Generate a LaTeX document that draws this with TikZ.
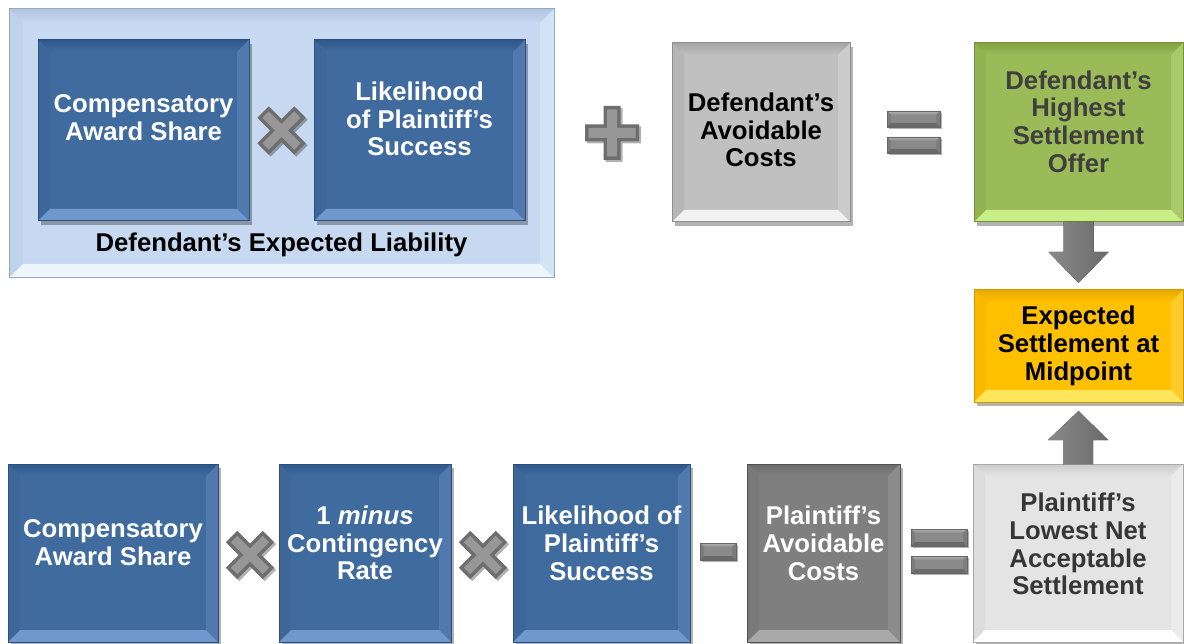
\documentclass[tikz,border=0pt]{standalone}
\usepackage{fontspec}
\setmainfont{Liberation Sans}
\usetikzlibrary{shadows,calc}

% palette
\definecolor{blFace}{HTML}{3F6B9F}\definecolor{blEdge}{HTML}{2C4F7C}
\definecolor{blTop}{HTML}{2F5888}\definecolor{blLeft}{HTML}{3D6799}
\definecolor{blRight}{HTML}{5079AE}\definecolor{blBot}{HTML}{6E98CE}
\definecolor{pnFace}{HTML}{C6D9F0}\definecolor{pnEdge}{HTML}{93A8C2}
\definecolor{pnTop}{HTML}{B0C5E0}\definecolor{pnLeft}{HTML}{BFD2EA}
\definecolor{pnRight}{HTML}{D3E3F6}\definecolor{pnBot}{HTML}{EEF5FD}
\definecolor{gyFace}{HTML}{C0C0C0}\definecolor{gyEdge}{HTML}{8F8F8F}
\definecolor{gyTop}{HTML}{A6A6A6}\definecolor{gyLeft}{HTML}{B6B6B6}
\definecolor{gyRight}{HTML}{CBCBCB}\definecolor{gyBot}{HTML}{F2F2F2}
\definecolor{grFace}{HTML}{9BBB59}\definecolor{grEdge}{HTML}{71913A}
\definecolor{grTop}{HTML}{82A244}\definecolor{grLeft}{HTML}{93B353}
\definecolor{grRight}{HTML}{A9C96A}\definecolor{grBot}{HTML}{C8EE88}
\definecolor{ylFace}{HTML}{FFC000}\definecolor{ylEdge}{HTML}{CF9A00}
\definecolor{ylTop}{HTML}{E8A800}\definecolor{ylLeft}{HTML}{F8B900}
\definecolor{ylRight}{HTML}{FFCB2A}\definecolor{ylBot}{HTML}{FFE55A}
\definecolor{dgFace}{HTML}{7F7F7F}\definecolor{dgEdge}{HTML}{505050}
\definecolor{dgTop}{HTML}{6C6C6C}\definecolor{dgLeft}{HTML}{797979}
\definecolor{dgRight}{HTML}{8C8C8C}\definecolor{dgBot}{HTML}{A8A8A8}
\definecolor{lgFace}{HTML}{E4E4E4}\definecolor{lgEdge}{HTML}{A8A8A8}
\definecolor{lgTop}{HTML}{CCCCCC}\definecolor{lgLeft}{HTML}{DCDCDC}
\definecolor{lgRight}{HTML}{EBEBEB}\definecolor{lgBot}{HTML}{FFFFFF}
\definecolor{opEdge}{HTML}{6E6E6E}\definecolor{opFace}{HTML}{979797}
\definecolor{brFace}{HTML}{8A8A8A}\definecolor{brEdge}{HTML}{666666}
\definecolor{brTop}{HTML}{B2B2B2}\definecolor{brSide}{HTML}{7D7D7D}
\definecolor{brBot}{HTML}{6A6A6A}
\definecolor{txGreen}{HTML}{3F3F3F}\definecolor{txLight}{HTML}{363636}

\tikzset{
  % rectangle with four bevel bands:
  % face, edge, top, left, right, bottom, bevel width
  bevelbox/.style n args={7}{rectangle, inner sep=0pt, outer sep=0pt,
    fill=#1, draw=#2, line width=1pt,
    path picture={
      \path (path picture bounding box.north west) coordinate (bvNW)
            (path picture bounding box.north east) coordinate (bvNE)
            (path picture bounding box.south west) coordinate (bvSW)
            (path picture bounding box.south east) coordinate (bvSE);
      \shade[top color=#3, bottom color=#1]
        (bvNW) -- (bvNE) -- ([shift={(-#7,#7)}]bvNE) -- ([shift={(#7,#7)}]bvNW) -- cycle;
      \fill[#4]
        (bvNW) -- (bvSW) -- ([shift={(#7,-#7)}]bvSW) -- ([shift={(#7,#7)}]bvNW) -- cycle;
      \fill[#5]
        (bvNE) -- (bvSE) -- ([shift={(-#7,-#7)}]bvSE) -- ([shift={(-#7,#7)}]bvNE) -- cycle;
      \fill[#6]
        (bvSW) -- (bvSE) -- ([shift={(-#7,-#7)}]bvSE) -- ([shift={(#7,-#7)}]bvSW) -- cycle;
    }},
  boxshadow/.style={drop shadow={shadow xshift=3pt, shadow yshift=-4pt, opacity=.3, fill=black}},
  panel/.style={bevelbox={pnFace}{pnEdge}{pnTop}{pnLeft}{pnRight}{pnBot}{14}},
  bluebox/.style={bevelbox={blFace}{blEdge}{blTop}{blLeft}{blRight}{blBot}{12}, boxshadow},
  graybox/.style={bevelbox={gyFace}{gyEdge}{gyTop}{gyLeft}{gyRight}{gyBot}{12}, boxshadow},
  greenbox/.style={bevelbox={grFace}{grEdge}{grTop}{grLeft}{grRight}{grBot}{12}, boxshadow},
  goldbox/.style={bevelbox={ylFace}{ylEdge}{ylTop}{ylLeft}{ylRight}{ylBot}{12}, boxshadow},
  darkbox/.style={bevelbox={dgFace}{dgEdge}{dgTop}{dgLeft}{dgRight}{dgBot}{12}, boxshadow},
  lightbox/.style={bevelbox={lgFace}{lgEdge}{lgTop}{lgLeft}{lgRight}{lgBot}{12}, boxshadow},
  opbar/.style={bevelbox={brFace}{brEdge}{brTop}{brSide}{brSide}{brBot}{4}, line width=.6pt,
    drop shadow={shadow xshift=2pt, shadow yshift=-2pt, opacity=.3, fill=black}},
  lbl/.style={align=center, inner sep=0pt, font=\fontsize{25.7}{27.7}\selectfont\bfseries},
  blockarrow/.style={left color=brFace, middle color=opFace!85!white, right color=brBot},
}

% X-shaped multiplication sign centred at #1
\newcommand\opcross[1]{%
  \begin{scope}[shift={(#1)}, rotate=45]
    \fill[opEdge, drop shadow={shadow xshift=2pt, shadow yshift=-2pt, opacity=.3, fill=black}]
      (8,8) -- (26,8) -- (26,-8) -- (8,-8) -- (8,-26) -- (-8,-26) -- (-8,-8) -- (-26,-8)
      -- (-26,8) -- (-8,8) -- (-8,26) -- (8,26) -- cycle;
    \fill[opFace]
      (4.5,4.5) -- (22.5,4.5) -- (22.5,-4.5) -- (4.5,-4.5) -- (4.5,-22.5) -- (-4.5,-22.5)
      -- (-4.5,-4.5) -- (-22.5,-4.5) -- (-22.5,4.5) -- (-4.5,4.5) -- (-4.5,22.5) -- (4.5,22.5) -- cycle;
  \end{scope}}

% plus sign centred at #1
\newcommand\opplus[1]{%
  \begin{scope}[shift={(#1)}]
    \fill[opEdge, drop shadow={shadow xshift=2pt, shadow yshift=-2pt, opacity=.3, fill=black}]
      (8.5,8.5) -- (27,8.5) -- (27,-8.5) -- (8.5,-8.5) -- (8.5,-27) -- (-8.5,-27) -- (-8.5,-8.5)
      -- (-27,-8.5) -- (-27,8.5) -- (-8.5,8.5) -- (-8.5,27) -- (8.5,27) -- cycle;
    \fill[opFace]
      (5,5) -- (23.5,5) -- (23.5,-5) -- (5,-5) -- (5,-23.5) -- (-5,-23.5) -- (-5,-5)
      -- (-23.5,-5) -- (-23.5,5) -- (-5,5) -- (-5,23.5) -- (5,23.5) -- cycle;
  \end{scope}}

\begin{document}
\begin{tikzpicture}[x=1pt, y=-1pt]
  \useasboundingbox (0,0) rectangle (1184,644);
  \fill[white] (0,0) rectangle (1184,644);
  \clip (0,0) rectangle (1184,644);

  % ---- defendant's side ----
  \node[panel, minimum width=545pt, minimum height=269pt] (panel) at (281.5,143.5) {};
  \node[bluebox, minimum width=211pt, minimum height=181pt] (dcomp) at (143.5,130.5) {};
  \node[lbl, text=white] (dcompT) at (143.5,118) {Compensatory\\Award Share};
  \node[bluebox, minimum width=211pt, minimum height=181pt] (dlike) at (419.5,130.5) {};
  \node[lbl, text=white] (dlikeT) at (419.5,119) {Likelihood\\of Plaintiff’s\\Success};
  \opcross{281.5,130.5}
  \node[lbl, text=black] (panelT) at (281.5,245) {Defendant’s Expected Liability};

  \opplus{612,133}

  \node[graybox, minimum width=178pt, minimum height=179pt] (dcost) at (761,132.5) {};
  \node[lbl, text=black] (dcostT) at (761,130) {Defendant’s\\Avoidable\\Costs};

  \node[opbar, minimum width=53pt, minimum height=16pt] (eqA) at (913.5,119) {};
  \node[opbar, minimum width=53pt, minimum height=16pt] (eqB) at (913.5,145) {};

  \node[greenbox, minimum width=209pt, minimum height=179pt] (offer) at (1078.5,132.5) {};
  \node[lbl, text=txGreen] (offerT) at (1078.5,121.5) {Defendant’s\\Highest\\Settlement\\Offer};

  % ---- outcome ----
  \node[goldbox, minimum width=209pt, minimum height=112pt] (mid) at (1078.5,346) {};
  \node[lbl, text=black] (midT) at (1078.5,346) {Expected\\Settlement at\\Midpoint};

  % ---- plaintiff's side ----
  \node[bluebox, minimum width=210pt, minimum height=178pt] (pcomp) at (113,553) {};
  \node[lbl, text=white] (pcompT) at (113,542.5) {Compensatory\\Award Share};
  \opcross{250,555}
  \node[bluebox, minimum width=172pt, minimum height=178pt] (pcont) at (365,553) {};
  \node[lbl, text=white] (pcontT) at (365,543) {1 \textit{minus}\\Contingency\\Rate};
  \opcross{483,555}
  \node[bluebox, minimum width=177pt, minimum height=178pt] (plike) at (601.5,553) {};
  \node[lbl, text=white] (plikeT) at (601.5,543.5) {Likelihood of\\Plaintiff’s\\Success};

  \node[opbar, minimum width=36pt, minimum height=17pt] (minus) at (718,551.5) {};

  \node[darkbox, minimum width=153pt, minimum height=178pt] (pcost) at (823.5,553) {};
  \node[lbl, text=white] (pcostT) at (823.5,543.5) {Plaintiff’s\\Avoidable\\Costs};

  \node[opbar, minimum width=56pt, minimum height=17pt] (eqC) at (939,537.5) {};
  \node[opbar, minimum width=56pt, minimum height=17pt] (eqD) at (939,564.5) {};

  \node[lightbox, minimum width=210pt, minimum height=178pt] (lowest) at (1078,553) {};
  \node[lbl, text=txLight] (lowestT) at (1078,544) {Plaintiff’s\\Lowest Net\\Acceptable\\Settlement};

  % ---- block arrows into the midpoint ----
  \fill[blockarrow]
    ([shift={(-15,0)}]offer.south) -- ([shift={(15,0)}]offer.south)
    -- ([shift={(15,30)}]offer.south) -- ([shift={(30,30)}]offer.south)
    -- ([shift={(0,-7)}]mid.north)
    -- ([shift={(-30,30)}]offer.south) -- ([shift={(-15,30)}]offer.south) -- cycle;
  \fill[blockarrow]
    ([shift={(-15,0)}]lowest.north) -- ([shift={(15,0)}]lowest.north)
    -- ([shift={(15,-24)}]lowest.north) -- ([shift={(30,-24)}]lowest.north)
    -- ([shift={(0,9)}]mid.south)
    -- ([shift={(-30,-24)}]lowest.north) -- ([shift={(-15,-24)}]lowest.north) -- cycle;
\end{tikzpicture}
\end{document}
